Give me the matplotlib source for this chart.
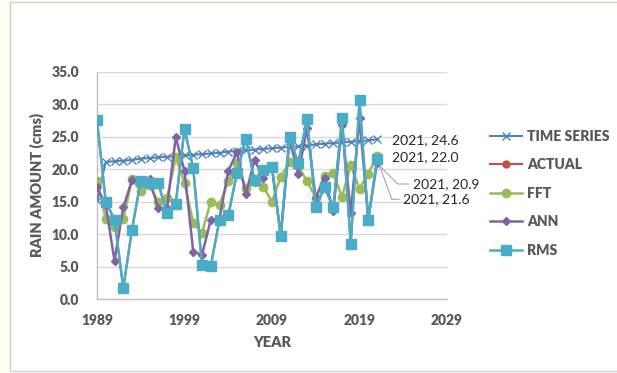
import matplotlib
matplotlib.use("Agg")
import matplotlib.pyplot as plt
from matplotlib.patches import Rectangle

years = list(range(1989, 2022))
time_series = [15.2, 21.1, 21.2, 21.3, 21.4, 21.6, 21.7, 21.8, 21.9, 22.0, 22.1,
               22.2, 22.3, 22.4, 22.5, 22.7, 22.8, 22.9, 23.0, 23.1, 23.2, 23.3,
               23.4, 23.5, 23.6, 23.8, 23.9, 24.0, 24.1, 24.2, 24.3, 24.4, 24.6]
actual_years = list(range(1989, 2021))
actual = [27.5, 15.0, 12.2, 1.7, 10.7, 18.2, 17.8, 17.8, 13.2, 14.7, 26.2,
          20.1, 5.3, 5.1, 12.2, 12.9, 19.4, 24.7, 18.3, 19.8, 20.3, 9.7,
          24.9, 20.9, 27.7, 14.2, 17.2, 14.1, 27.8, 8.5, 30.4, 12.0]
fft = [18.2, 12.4, 11.1, 12.3, 18.5, 16.6, 17.5, 14.9, 15.5, 21.8, 17.9,
       11.7, 10.2, 15.0, 14.5, 18.2, 20.9, 17.1, 18.0, 17.3, 15.0, 18.8,
       21.1, 20.4, 18.2, 15.6, 19.0, 19.4, 15.7, 20.6, 17.0, 19.3, 22.0]
ann = [17.2, 14.5, 5.9, 14.1, 18.3, 18.3, 18.4, 14.0, 14.0, 24.9, 19.7,
       7.3, 6.8, 12.2, 12.4, 19.7, 22.6, 16.1, 21.4, 18.7, 20.2, 9.8,
       24.5, 19.3, 26.3, 15.5, 18.7, 13.5, 26.8, 13.2, 27.8, 12.4, 20.9]
rms = [27.5, 15.0, 12.2, 1.7, 10.7, 18.2, 17.8, 17.8, 13.2, 14.7, 26.2,
       20.1, 5.3, 5.1, 12.2, 12.9, 19.4, 24.7, 18.3, 19.8, 20.3, 9.7,
       24.9, 20.9, 27.7, 14.2, 17.2, 14.1, 27.8, 8.5, 30.6, 12.1, 21.6]
x_ticks = [1989, 1999, 2009, 2019, 2029]
y_ticks = [0, 5, 10, 15, 20, 25, 30, 35]

plt.rcParams['font.family'] = ['Lato', 'DejaVu Sans']

fig = plt.figure(figsize=(6.17, 3.73), dpi=100)
fig.patches.append(Rectangle((0, 0), 1, 1, transform=fig.transFigure,
                             facecolor='#FFFEF2', edgecolor='none', zorder=-3))
fig.patches.append(Rectangle((10/617, 2/373), 1.0, 1.0 - 4/373, transform=fig.transFigure,
                             facecolor='white', edgecolor='#D0D0D0', lw=1, zorder=-2))

ax = fig.add_axes([97/617, 1 - 299.2/373, 350/617, (299.2 - 71.5)/373])

c_ts = '#4F81BD'
c_act = '#C0504D'
c_fft = '#9BBB59'
c_ann = '#8064A2'
c_rms = '#4BACC6'

ax.plot(years, time_series, color=c_ts, lw=1.5, marker='x', ms=6, mew=1.0,
        label='TIME SERIES', zorder=3)
ax.plot(actual_years, actual, color=c_act, lw=1.5, marker='o', ms=5,
        label='ACTUAL', zorder=4)
ax.plot(years, fft, color=c_fft, lw=1.8, marker='o', ms=6,
        label='FFT', zorder=5)
ax.plot(years, ann, color=c_ann, lw=1.8, marker='D', ms=4.5,
        label='ANN', zorder=6)
ax.plot(years, rms, color=c_rms, lw=1.8, marker='s', ms=6.5,
        label='RMS', zorder=7)

ax.set_xlim(1989, 2029)
ax.set_ylim(0, 35)
ax.set_xticks(x_ticks)
ax.set_yticks(y_ticks)
ax.set_yticklabels([f"{v:.1f}" for v in y_ticks])
ax.tick_params(axis='y', length=0, labelsize=10, labelcolor='#595959', pad=13)
ax.tick_params(axis='x', length=0, labelsize=10, labelcolor='#595959', pad=11)
for lab in ax.get_xticklabels() + ax.get_yticklabels():
    lab.set_fontweight('heavy')
ax.grid(axis='y', color='#D9D9D9', lw=1)
ax.set_axisbelow(True)
for s in ['top', 'right']:
    ax.spines[s].set_visible(False)
for s in ['left', 'bottom']:
    ax.spines[s].set_color('#BFBFBF')
    ax.spines[s].set_linewidth(1)

ax.set_xlabel('YEAR', fontsize=10.5, fontweight='heavy', color='#595959', labelpad=6)
ax.set_ylabel('RAIN AMOUNT (cms)', fontsize=10.5, fontweight='heavy', color='#595959', labelpad=5)

yr = years[-1]
ax.annotate(f"{yr}, {time_series[-1]:.1f}", xy=(yr, time_series[-1]),
            xytext=(391.7, 373 - 140), textcoords='figure pixels',
            va='center', ha='left', fontsize=10, color='#262626')
ax.annotate(f"{yr}, {fft[-1]:.1f}", xy=(yr, fft[-1]),
            xytext=(391.7, 373 - 156.7), textcoords='figure pixels',
            va='center', ha='left', fontsize=10, color='#262626')
ax.annotate(f"{yr}, {ann[-1]:.1f}", xy=(yr, ann[-1]),
            xytext=(412.7, 373 - 184), textcoords='figure pixels',
            va='center', ha='left', fontsize=10, color='#262626',
            arrowprops=dict(arrowstyle='-', color='#A6A6A6', lw=0.8,
                            connectionstyle='angle,angleA=0,angleB=-45,rad=0',
                            shrinkA=1, shrinkB=2))
ax.annotate(f"{yr}, {rms[-1]:.1f}", xy=(yr, rms[-1]),
            xytext=(403.3, 373 - 199.3), textcoords='figure pixels',
            va='center', ha='left', fontsize=10, color='#262626',
            arrowprops=dict(arrowstyle='-', color='#A6A6A6', lw=0.8,
                            connectionstyle='angle,angleA=0,angleB=-70,rad=0',
                            shrinkA=1, shrinkB=2))

leg = ax.legend(loc='upper left', bbox_to_anchor=(484/617, 1 - 124/373),
                bbox_transform=fig.transFigure, frameon=False,
                fontsize=10, labelspacing=1.12, handlelength=2.3,
                handletextpad=0.4, borderaxespad=0)
for t in leg.get_texts():
    t.set_fontweight('heavy')
    t.set_color('#595959')

fig.savefig('out.png', dpi=100)
